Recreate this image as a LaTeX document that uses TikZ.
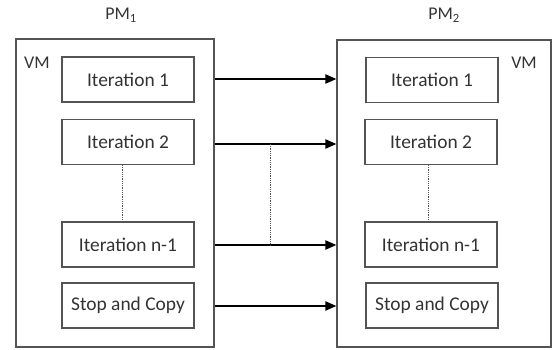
\documentclass[tikz,border=0pt]{standalone}
\usepackage{fontspec}
\setmainfont{Carlito}
\usetikzlibrary{arrows.meta}

\definecolor{Frame}{gray}{0.33}
\definecolor{Ink}{gray}{0.2}

\tikzset{
  pmbox/.style={draw=Frame,line width=1.1bp,minimum width=#1,inner sep=0pt},
  iterbox/.style={draw=Frame,line width=1.1bp,minimum width=132bp,minimum height=45bp,
    inner sep=0pt,text=Ink,font=\fontsize{19.5}{22}\selectfont},
  tag/.style={text=Ink,inner sep=0pt,font=\fontsize{18}{21}\selectfont},
  migrate/.style={line width=2bp,-{Triangle[length=11bp,width=9bp]}},
  gap/.style={Frame,line width=0.8bp,densely dotted}
}

\begin{document}
\begin{tikzpicture}[x=1bp,y=-1bp]
  \useasboundingbox (0,0) rectangle (552,349);
  % physical machines
  \node[pmbox=198bp,minimum height=308bp] (pm1) at (115,193) {};
  \node[pmbox=214bp,minimum height=307bp] (pm2) at (444,193.5) {};
  \node[tag] (pm1l) at (121,15) {PM\textsubscript{1}};
  \node[tag] (pm2l) at (444,15) {PM\textsubscript{2}};
  \node[tag] (vm1) at (37,63) {VM};
  \node[tag] (vm2) at (524,63) {VM};
  % iterations on source
  \node[iterbox] (l1) at (128,79.5) {Iteration 1};
  \node[iterbox] (l2) at (128,142) {Iteration 2};
  \node[iterbox] (ln) at (128,244.5) {Iteration n-1};
  \node[iterbox] (ls) at (128,305.5) {Stop and Copy};
  % iterations on destination
  \node[iterbox] (r1) at (432,80) {Iteration 1};
  \node[iterbox] (r2) at (431,142) {Iteration 2};
  \node[iterbox] (rn) at (431,244.5) {Iteration n-1};
  \node[iterbox] (rs) at (432,305.5) {Stop and Copy};
  \draw[gap] ([xshift=-6bp]l2.south) -- ([xshift=-6bp]ln.north);
  \draw[gap] ([xshift=-3bp]r2.south) -- ([xshift=-3bp]rn.north);
  % transfers
  \draw[migrate] (pm1.east |- 0,79) -- (pm2.west |- 0,79);
  \draw[migrate] (pm1.east |- 0,144) -- coordinate[pos=0.455] (m2) (pm2.west |- 0,144);
  \draw[migrate] (pm1.east |- 0,245) -- coordinate[pos=0.455] (m3) (pm2.west |- 0,245);
  \draw[migrate] (pm1.east |- 0,306) -- (pm2.west |- 0,306);
  \draw[gap] (m2) -- (m3);
\end{tikzpicture}
\end{document}
